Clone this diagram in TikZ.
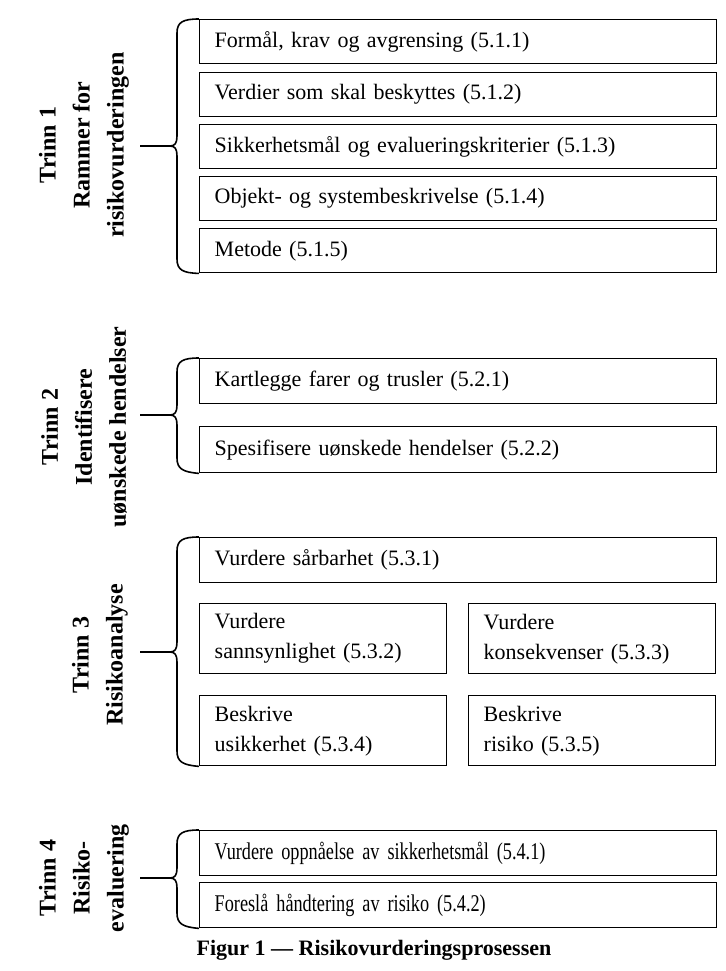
\documentclass[tikz,border=0pt]{standalone}
\usepackage{fontspec}
\setmainfont{Liberation Serif}
\newfontfamily\narrowserif[FakeStretch=0.76,WordSpace=0.5]{Liberation Serif}
\usetikzlibrary{positioning}

\begin{document}
\begin{tikzpicture}[x=0.5pt,y=-0.5pt,
	box/.style={draw, line width=0.7pt, anchor=north west, inner xsep=7.5pt, inner ysep=0pt,
		minimum height=22pt, text width=243.5pt, align=left, font=\fontsize{11}{15}\selectfont},
	halfbox/.style={box, text width=108.5pt, minimum height=35pt},
	narrowbox/.style={box, minimum height=22.5pt, font=\narrowserif\fontsize{12}{15}\selectfont},
	trinn/.style={rotate=90, align=center, font=\bfseries\fontsize{12}{17}\selectfont},
	bracket/.style={line width=0.8pt}]
		\useasboundingbox (0,0) rectangle (726,971);

		% Trinn 1
		\node[trinn] (t1) at (84,145) {Trinn 1\\Rammer for\\risikovurderingen};
		\node[box] (a1) at (199,19) {Formål, krav og avgrensing (5.1.1)};
		\node[box] (a2) at (199,72) {Verdier som skal beskyttes (5.1.2)};
		\node[box] (a3) at (199,124) {Sikkerhetsmål og evalueringskriterier (5.1.3)};
		\node[box] (a4) at (199,176) {Objekt- og systembeskrivelse (5.1.4)};
		\node[box] (a5) at (199,228) {Metode (5.1.5)};
		\coordinate (s1) at (140,146);
		\draw[bracket] (a1.north west) .. controls (183,19) and (177,22) .. (177,33) -- (177,136)
			.. controls (177,143) and (175,146) .. (170,146)
			.. controls (175,146) and (177,149) .. (177,156) -- (177,259)
			.. controls (177,270) and (183,273) .. (a5.south west);
		\draw[bracket] (170,146) -- (s1);

		% Trinn 2
		\node[trinn] (t2) at (84,427) {Trinn 2\\Identifisere\\uønskede hendelser};
		\node[box, minimum height=22.5pt] (b1) at (199,358) {Kartlegge farer og trusler (5.2.1)};
		\node[box, minimum height=23pt] (b2) at (199,426) {Spesifisere uønskede hendelser (5.2.2)};
		\coordinate (s2) at (140,415);
		\draw[bracket] (b1.north west) .. controls (183,358) and (177,361) .. (177,372) -- (177,405)
			.. controls (177,412) and (175,415) .. (170,415)
			.. controls (175,415) and (177,418) .. (177,425) -- (177,458)
			.. controls (177,469) and (183,472) .. (b2.south west);
		\draw[bracket] (170,415) -- (s2);

		% Trinn 3
		\node[trinn] (t3) at (100,655) {Trinn 3\\Risikoanalyse};
		\node[box, minimum height=22.5pt] (c1) at (199,537) {Vurdere sårbarhet (5.3.1)};
		\node[halfbox] (c2) at (199,603) {Vurdere\\sannsynlighet (5.3.2)};
		\node[halfbox] (c3) at (468,603) {Vurdere\\konsekvenser (5.3.3)};
		\node[halfbox] (c4) at (199,695) {Beskrive\\usikkerhet (5.3.4)};
		\node[halfbox] (c5) at (468,695) {Beskrive\\risiko (5.3.5)};
		\coordinate (s3) at (140,652);
		\draw[bracket] (c1.north west) .. controls (183,537) and (177,540) .. (177,551) -- (177,642)
			.. controls (177,649) and (175,652) .. (170,652)
			.. controls (175,652) and (177,655) .. (177,662) -- (177,751)
			.. controls (177,762) and (183,765) .. (c4.south west);
		\draw[bracket] (170,652) -- (s3);

		% Trinn 4
		\node[trinn] (t4) at (84,878) {Trinn 4\\Risiko-\\evaluering};
		\node[narrowbox] (d1) at (199,830) {Vurdere oppnåelse av sikkerhetsmål (5.4.1)};
		\node[narrowbox] (d2) at (199,882) {Foreslå håndtering av risiko (5.4.2)};
		\coordinate (s4) at (140,878);
		\draw[bracket] (d1.north west) .. controls (183,830) and (177,833) .. (177,844) -- (177,868)
			.. controls (177,875) and (175,878) .. (170,878)
			.. controls (175,878) and (177,881) .. (177,888) -- (177,913)
			.. controls (177,924) and (183,927) .. (d2.south west);
		\draw[bracket] (170,878) -- (s4);

		\node[font=\bfseries\fontsize{11}{13}\selectfont] (cap) at (374,950) {Figur 1 — Risikovurderingsprosessen};

	\end{tikzpicture}
\end{document}
